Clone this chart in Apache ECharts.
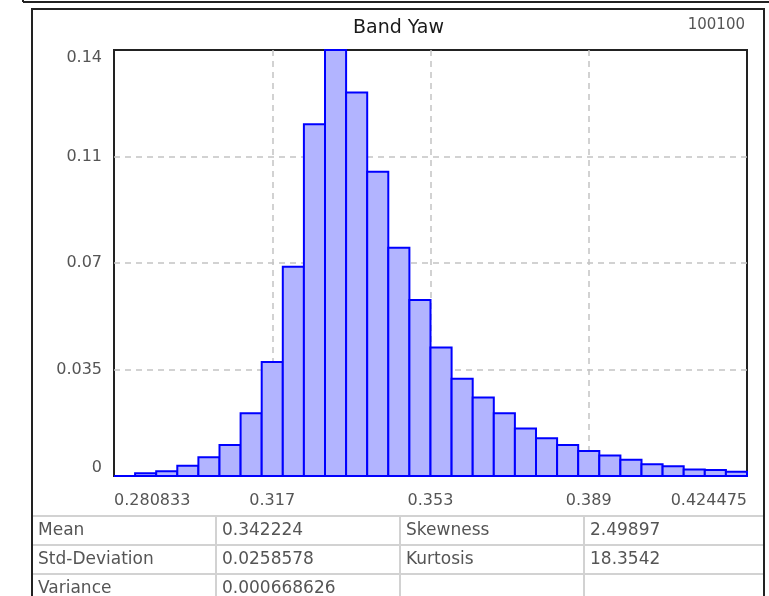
<!DOCTYPE html>
<html>
<head>
<meta charset="utf-8">
<title>Band Yaw</title>
<script src="https://cdn.jsdelivr.net/npm/echarts@6/dist/echarts.min.js"></script>
<style>
  html, body { margin: 0; padding: 0; background: #fff; }
  #chart { width: 769px; height: 596px; }
</style>
</head>
<body>
<div id="chart"></div>
<script>
// Band Yaw histogram: 30 equal bins between the first and last x label
const binCount = 30;
const frequencies = [
  0.0000, 0.0009, 0.0016, 0.0034, 0.0062, 0.0102, 0.0206, 0.0375, 0.0688, 0.1156,
  0.1400, 0.1260, 0.1000, 0.0750, 0.0578, 0.0422, 0.0320, 0.0258, 0.0206, 0.0156,
  0.0124, 0.0102, 0.0082, 0.0067, 0.0053, 0.0039, 0.0032, 0.0021, 0.0020, 0.0014
];
const xTickLabels = ['0.280833', '0.317', '0.353', '0.389', '0.424475'];
const yTickLabels = ['0', '0.035', '0.07', '0.11', '0.14'];
const yStep = 0.035;
const yMax = 0.14;
const chartTitle = 'Band Yaw';
const sampleCount = '100100';

// statistics table under the plot
const statNames = ['Mean', 'Std-Deviation', 'Variance'];
const statValues = ['0.342224', '0.0258578', '0.000668626'];
const statNames2 = ['Skewness', 'Kurtosis', ''];
const statValues2 = ['2.49897', '18.3542', ''];

const FONT = '"DejaVu Sans", Verdana, sans-serif';
const TEXT_GRAY = '#555';
const xStep = binCount / (xTickLabels.length - 1);

const chart = echarts.init(document.getElementById('chart'));

// table + frames
const graphics = [];
const line = (x1, y1, x2, y2, color, width) => ({
  type: 'line',
  shape: { x1, y1, x2, y2 },
  style: { stroke: color, lineWidth: width },
  silent: true
});
const text = (x, y, str, opts) => ({
  type: 'text',
  x, y,
  style: Object.assign({
    text: str,
    fill: TEXT_GRAY,
    font: '17px ' + FONT,
    verticalAlign: 'middle'
  }, opts || {}),
  silent: true
});

// bottom edge of the panel above
graphics.push(line(23, 0, 23, 2, '#222', 2));
graphics.push(line(23, 2, 769, 2, '#222', 2));
// outer frame
graphics.push({
  type: 'rect',
  shape: { x: 32, y: 9, width: 732, height: 600 },
  style: { fill: null, stroke: '#222', lineWidth: 2 },
  silent: true,
  z: 10
});

const rowTops = [516, 545, 574];
const colLefts = [32, 216, 400, 584];
rowTops.forEach(y => graphics.push(line(32, y, 764, y, '#d2d2d2', 2)));
colLefts.slice(1).forEach(x => graphics.push(line(x, 516, x, 600, '#d2d2d2', 2)));
statNames.forEach((name, i) => {
  const cy = rowTops[i] + 14.5;
  graphics.push(text(colLefts[0] + 6, cy, name));
  graphics.push(text(colLefts[1] + 6, cy, statValues[i]));
  graphics.push(text(colLefts[2] + 6, cy, statNames2[i]));
  graphics.push(text(colLefts[3] + 6, cy, statValues2[i]));
});

graphics.push(text(398.5, 28, chartTitle, {
  fill: '#1a1a1a', font: '19px ' + FONT, align: 'center'
}));
graphics.push(text(745, 25, sampleCount, {
  fill: TEXT_GRAY, font: '15px ' + FONT, align: 'right'
}));

const option = {
  backgroundColor: '#fff',
  animation: false,
  grid: {
    left: 114,
    right: 22,
    top: 50,
    bottom: 120,
    show: true,
    backgroundColor: '#fff',
    borderColor: '#222',
    borderWidth: 2
  },
  xAxis: {
    type: 'value',
    min: 0,
    max: binCount,
    interval: xStep,
    axisLine: { show: false },
    axisTick: { show: false },
    axisLabel: {
      color: TEXT_GRAY,
      fontFamily: FONT,
      fontSize: 16,
      margin: 17,
      alignMinLabel: 'left',
      alignMaxLabel: 'right',
      formatter: v => xTickLabels[Math.round(v / xStep)]
    },
    splitLine: {
      show: true,
      showMinLine: false,
      showMaxLine: false,
      lineStyle: { color: '#c4c4c4', width: 1.5, type: [6, 5] }
    }
  },
  yAxis: {
    type: 'value',
    min: 0,
    max: yMax,
    interval: yStep,
    axisLine: { show: false },
    axisTick: { show: false },
    axisLabel: {
      color: TEXT_GRAY,
      fontFamily: FONT,
      fontSize: 16,
      margin: 12,
      verticalAlignMinLabel: 'bottom',
      verticalAlignMaxLabel: 'top',
      formatter: v => yTickLabels[Math.round(v / yStep)]
    },
    splitLine: {
      show: true,
      showMinLine: false,
      showMaxLine: false,
      lineStyle: { color: '#c4c4c4', width: 1.5, type: [6, 5] }
    }
  },
  series: [{
    type: 'custom',
    clip: false,
    data: frequencies.map((v, i) => [i, v]),
    renderItem: (params, api) => {
      const i = api.value(0);
      const topLeft = api.coord([i, api.value(1)]);
      const bottomRight = api.coord([i + 1, 0]);
      return {
        type: 'rect',
        shape: {
          x: topLeft[0],
          y: topLeft[1],
          width: bottomRight[0] - topLeft[0],
          height: bottomRight[1] - topLeft[1]
        },
        style: { fill: '#b2b4ff', stroke: '#0000ff', lineWidth: 2 }
      };
    }
  }],
  graphic: graphics
};

chart.setOption(option);
</script>
</body>
</html>
